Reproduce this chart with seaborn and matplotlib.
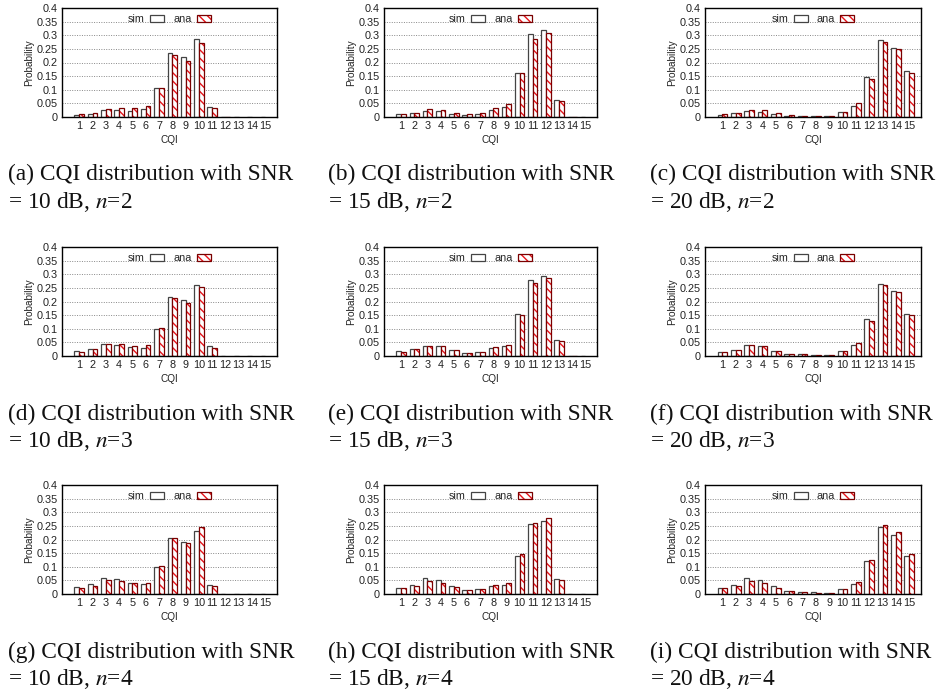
import numpy as np
import pandas as pd
import matplotlib
matplotlib.use("Agg")
import matplotlib.pyplot as plt
from matplotlib.patches import Rectangle
from matplotlib.legend_handler import HandlerTuple
import seaborn as sns

sns.set_theme(style="white")
plt.rcParams['font.family'] = ['Liberation Sans', 'DejaVu Sans']
plt.rcParams['mathtext.fontset'] = 'stix'
plt.rcParams['hatch.linewidth'] = 1.0

cqi = [str(i) for i in range(1, 16)]
yticks = [0, 0.05, 0.1, 0.15, 0.2, 0.25, 0.3, 0.35, 0.4]
ytick_labels = ["0", "0.05", "0.1", "0.15", "0.2", "0.25", "0.3", "0.35", "0.4"]

sim_a = [0.008, 0.012, 0.027, 0.025, 0.023, 0.031, 0.106, 0.234, 0.219, 0.287, 0.037, 0.001, 0, 0, 0]
ana_a = [0.011, 0.016, 0.031, 0.034, 0.032, 0.041, 0.107, 0.226, 0.207, 0.271, 0.034, 0.0005, 0, 0, 0]
sim_b = [0.010, 0.015, 0.023, 0.021, 0.012, 0.009, 0.012, 0.027, 0.038, 0.163, 0.304, 0.320, 0.061, 0.001, 0]
ana_b = [0.011, 0.016, 0.028, 0.027, 0.016, 0.010, 0.016, 0.034, 0.046, 0.160, 0.285, 0.307, 0.058, 0.0005, 0]
sim_c = [0.008, 0.014, 0.022, 0.019, 0.012, 0.004, 0.003, 0.003, 0.003, 0.017, 0.042, 0.147, 0.283, 0.255, 0.170]
ana_c = [0.010, 0.015, 0.027, 0.025, 0.013, 0.007, 0.004, 0.003, 0.004, 0.019, 0.050, 0.138, 0.277, 0.248, 0.160]
sim_d = [0.017, 0.024, 0.045, 0.041, 0.034, 0.031, 0.099, 0.216, 0.204, 0.261, 0.036, 0.0005, 0, 0, 0]
ana_d = [0.016, 0.026, 0.045, 0.045, 0.037, 0.041, 0.104, 0.213, 0.193, 0.252, 0.031, 0, 0, 0, 0]
sim_e = [0.017, 0.024, 0.038, 0.036, 0.021, 0.011, 0.014, 0.029, 0.035, 0.154, 0.279, 0.295, 0.058, 0.001, 0]
ana_e = [0.016, 0.024, 0.038, 0.038, 0.022, 0.011, 0.016, 0.033, 0.041, 0.150, 0.267, 0.287, 0.054, 0.0005, 0]
sim_f = [0.015, 0.022, 0.041, 0.035, 0.019, 0.009, 0.006, 0.005, 0.003, 0.017, 0.040, 0.134, 0.266, 0.239, 0.154]
ana_f = [0.015, 0.023, 0.040, 0.037, 0.019, 0.009, 0.006, 0.005, 0.004, 0.019, 0.046, 0.130, 0.259, 0.234, 0.149]
sim_g = [0.024, 0.035, 0.059, 0.054, 0.041, 0.035, 0.098, 0.204, 0.191, 0.230, 0.033, 0, 0, 0, 0]
ana_g = [0.021, 0.030, 0.051, 0.048, 0.040, 0.040, 0.101, 0.206, 0.187, 0.247, 0.030, 0, 0, 0, 0]
sim_h = [0.022, 0.034, 0.058, 0.052, 0.028, 0.015, 0.017, 0.028, 0.034, 0.140, 0.257, 0.269, 0.054, 0.0005, 0]
ana_h = [0.022, 0.030, 0.049, 0.041, 0.025, 0.014, 0.019, 0.032, 0.040, 0.147, 0.260, 0.278, 0.053, 0, 0]
sim_i = [0.022, 0.033, 0.058, 0.052, 0.030, 0.011, 0.009, 0.007, 0.003, 0.017, 0.037, 0.122, 0.245, 0.217, 0.140]
ana_i = [0.021, 0.030, 0.048, 0.041, 0.022, 0.010, 0.007, 0.005, 0.004, 0.019, 0.045, 0.125, 0.253, 0.228, 0.145]

panels = [
    ("a", "10", "2", sim_a, ana_a), ("b", "15", "2", sim_b, ana_b), ("c", "20", "2", sim_c, ana_c),
    ("d", "10", "3", sim_d, ana_d), ("e", "15", "3", sim_e, ana_e), ("f", "20", "3", sim_f, ana_f),
    ("g", "10", "4", sim_g, ana_g), ("h", "15", "4", sim_h, ana_h), ("i", "20", "4", sim_i, ana_i),
]

W, H = 945, 693
fig = plt.figure(figsize=(W / 100, H / 100), dpi=100)

col_x = [(62, 277), (384, 597), (705, 921)]
row_y = [(8, 117), (247, 356), (485, 594)]
cap_x = [8, 328, 650]
cap_base = [(180, 208), (420, 447), (658, 685)]

SIM_EDGE = '#444444'
ANA_EDGE = '#7a0000'
HATCH_C = '#e8141b'

for k, (lab, snr, n, sim, ana) in enumerate(panels):
    r, c = divmod(k, 3)
    x0, x1 = col_x[c]
    y0, y1 = row_y[r]
    ax = fig.add_axes([x0 / W, 1 - y1 / H, (x1 - x0) / W, (y1 - y0) / H])
    df = pd.DataFrame({
        "CQI": cqi * 2,
        "Probability": list(sim) + list(ana),
        "type": ["sim"] * 15 + ["ana"] * 15,
    })
    sns.barplot(data=df, x="CQI", y="Probability", hue="type", order=cqi,
                hue_order=["sim", "ana"], palette=["white", "white"],
                width=0.72, gap=0, ax=ax, legend=False, linewidth=0.9,
                edgecolor=SIM_EDGE, saturation=1)
    conts = ax.containers
    for p in conts[0]:
        p.set_edgecolor(SIM_EDGE)
        p.set_linewidth(0.9)
    for p in conts[1]:
        p.set_edgecolor(HATCH_C)
        p.set_hatch('\\\\\\\\')
        p.set_linewidth(0)
        h = p.get_height()
        if h > 0:
            ax.add_patch(Rectangle(p.get_xy(), p.get_width(), h, fill=False,
                                   edgecolor=ANA_EDGE, linewidth=0.9, zorder=p.get_zorder() + 0.1))
    ax.set_xlim(-1.3, 14.88)
    ax.set_ylim(0, 0.4)
    ax.set_yticks(yticks)
    ax.set_yticklabels(ytick_labels)
    ax.yaxis.grid(True, linestyle=(0, (1, 1.5)), color='#888888', linewidth=0.7)
    ax.set_axisbelow(True)
    ax.tick_params(axis='both', length=0, labelsize=7.8, pad=3, colors='#222222')
    for s in ax.spines.values():
        s.set_color('black')
        s.set_linewidth(1.0)
    ax.set_xlabel("CQI", fontsize=7.2, labelpad=3, color='#222222')
    ax.set_ylabel("Probability", fontsize=7.2, labelpad=2, color='#222222')

    h_sim = Rectangle((0, 0), 1, 1, facecolor='white', edgecolor=SIM_EDGE, linewidth=0.9)
    h_ana_fill = Rectangle((0, 0), 1, 1, facecolor='white', edgecolor=HATCH_C,
                           hatch='\\\\\\\\', linewidth=0)
    h_ana_edge = Rectangle((0, 0), 1, 1, fill=False, edgecolor=ANA_EDGE, linewidth=0.9)
    leg = ax.legend([h_sim, (h_ana_fill, h_ana_edge)], ["sim", "ana"], loc='upper center', ncol=2,
                    markerfirst=False, frameon=False, fontsize=7.8,
                    handlelength=1.3, handleheight=0.6, handletextpad=0.5,
                    columnspacing=0.8, borderaxespad=0.15,
                    handler_map={tuple: HandlerTuple(ndivide=1, pad=0)})

    fig.text(cap_x[c] / W, 1 - cap_base[r][0] / H, f"({lab}) CQI distribution with SNR",
             family='Liberation Serif', fontsize=16.8, va='baseline', ha='left', color='#111111')
    fig.text(cap_x[c] / W, 1 - cap_base[r][1] / H, f"= {snr} dB, $n$={n}",
             family='Liberation Serif', fontsize=16.8, va='baseline', ha='left', color='#111111')

fig.savefig("out.png", dpi=100)
